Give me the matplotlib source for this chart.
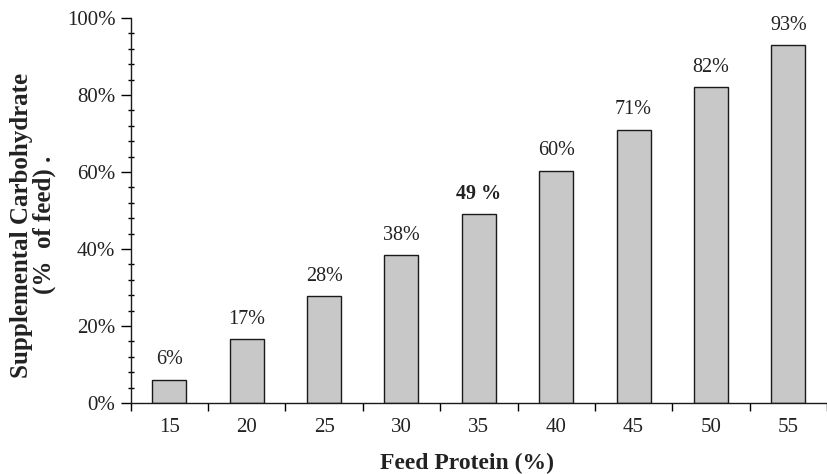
import matplotlib
matplotlib.use("Agg")
import matplotlib.pyplot as plt
from matplotlib.ticker import MultipleLocator, FixedLocator

categories = ["15", "20", "25", "30", "35", "40", "45", "50", "55"]
shown_values = [6, 16.5, 27.7, 38.3, 49.1, 60.3, 71, 82.1, 92.9]
labels = ["6%", "17%", "28%", "38%", "49 %", "60%", "71%", "82%", "93%"]
bold_label = "49 %"
yticks = [0, 20, 40, 60, 80, 100]
ytick_labels = ["0%", "20%", "40%", "60%", "80%", "100%"]

plt.rcParams['font.family'] = ['Liberation Serif', 'DejaVu Serif']

fig = plt.figure(figsize=(8.27, 4.74), dpi=100)
ax = fig.add_axes([0.158, 0.150, 0.842, 0.812])

x = list(range(len(categories)))
ax.bar(x, shown_values, width=0.44, color="#c8c8c8", edgecolor="#1a1a1a", linewidth=1.0)

for xi, v, lab in zip(x, shown_values, labels):
    ax.text(xi, v + 2.7, lab, ha="center", va="bottom", fontsize=14.5,
            fontweight="bold" if lab == bold_label else "normal", color="#222222")

ax.set_xlim(-0.5, len(categories) - 0.5)
ax.set_ylim(0, 100)
ax.set_xticks(x)
ax.set_xticklabels(categories, fontsize=15, color="#222222")
ax.tick_params(axis="x", which="major", length=0, pad=11)
ax.xaxis.set_minor_locator(FixedLocator([i - 0.5 for i in range(len(categories) + 1)]))
ax.tick_params(axis="x", which="minor", length=6, direction="out", width=1)

ax.set_yticks(yticks)
ax.set_yticklabels(ytick_labels, fontsize=15, color="#222222")
ax.yaxis.set_minor_locator(MultipleLocator(4))
ax.tick_params(axis="y", which="major", length=7, direction="out", width=1, pad=4)
ax.tick_params(axis="y", which="minor", length=5, direction="inout", width=1)

for s in ["top", "right"]:
    ax.spines[s].set_visible(False)
for s in ["left", "bottom"]:
    ax.spines[s].set_linewidth(1.0)
    ax.spines[s].set_color("#1a1a1a")

fig.text(0.565, 0.023, "Feed Protein (%)", fontsize=17, fontweight="bold",
         ha="center", va="center", color="#222222")
fig.text(0.040, 0.525, "Supplemental Carbohydrate\n(%  of feed) .", fontsize=18,
         fontweight="bold", rotation=90, ha="center", va="center",
         multialignment="center", linespacing=1.0, color="#222222")

fig.savefig("out.png", dpi=100)
